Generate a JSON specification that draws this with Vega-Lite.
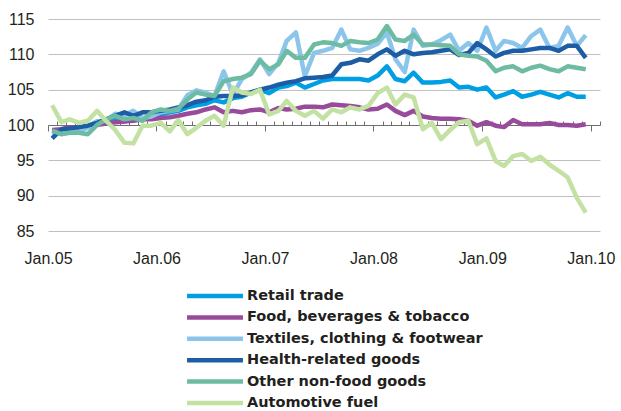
{
  "$schema": "https://vega.github.io/schema/vega-lite/v6.json",
  "width": 552,
  "height": 212,
  "autosize": "none",
  "padding": {"left": 48, "top": 19, "right": 21, "bottom": 180},
  "background": "white",
  "config": {"view": {"stroke": null}},
  "data": {"values": [
    {"d":"2005-01-15","Retail trade":99.0,"Food, beverages & tobacco":99.3,"Textiles, clothing & footwear":99.0,"Health-related goods":98.1,"Other non-food goods":99.2,"Automotive fuel":102.8},
    {"d":"2005-02-15","Retail trade":99.3,"Food, beverages & tobacco":99.4,"Textiles, clothing & footwear":98.8,"Health-related goods":99.4,"Other non-food goods":98.7,"Automotive fuel":100.4},
    {"d":"2005-03-15","Retail trade":99.5,"Food, beverages & tobacco":99.7,"Textiles, clothing & footwear":99.3,"Health-related goods":99.5,"Other non-food goods":98.9,"Automotive fuel":100.8},
    {"d":"2005-04-15","Retail trade":99.3,"Food, beverages & tobacco":99.6,"Textiles, clothing & footwear":99.0,"Health-related goods":99.7,"Other non-food goods":98.9,"Automotive fuel":100.3},
    {"d":"2005-05-15","Retail trade":99.8,"Food, beverages & tobacco":99.8,"Textiles, clothing & footwear":99.6,"Health-related goods":99.9,"Other non-food goods":98.7,"Automotive fuel":100.6},
    {"d":"2005-06-15","Retail trade":100.5,"Food, beverages & tobacco":100.0,"Textiles, clothing & footwear":100.5,"Health-related goods":100.3,"Other non-food goods":100.0,"Automotive fuel":102.0},
    {"d":"2005-07-15","Retail trade":100.2,"Food, beverages & tobacco":100.2,"Textiles, clothing & footwear":100.6,"Health-related goods":100.8,"Other non-food goods":100.8,"Automotive fuel":100.6},
    {"d":"2005-08-15","Retail trade":100.8,"Food, beverages & tobacco":100.4,"Textiles, clothing & footwear":101.6,"Health-related goods":101.3,"Other non-food goods":101.3,"Automotive fuel":99.3},
    {"d":"2005-09-15","Retail trade":100.5,"Food, beverages & tobacco":100.5,"Textiles, clothing & footwear":101.4,"Health-related goods":101.8,"Other non-food goods":100.8,"Automotive fuel":97.5},
    {"d":"2005-10-15","Retail trade":101.0,"Food, beverages & tobacco":100.6,"Textiles, clothing & footwear":102.0,"Health-related goods":101.3,"Other non-food goods":101.0,"Automotive fuel":97.4},
    {"d":"2005-11-15","Retail trade":100.8,"Food, beverages & tobacco":100.8,"Textiles, clothing & footwear":101.0,"Health-related goods":101.8,"Other non-food goods":100.6,"Automotive fuel":99.9},
    {"d":"2005-12-15","Retail trade":101.2,"Food, beverages & tobacco":100.8,"Textiles, clothing & footwear":101.2,"Health-related goods":101.8,"Other non-food goods":101.8,"Automotive fuel":99.9},
    {"d":"2006-01-15","Retail trade":101.5,"Food, beverages & tobacco":101.0,"Textiles, clothing & footwear":101.8,"Health-related goods":102.0,"Other non-food goods":102.2,"Automotive fuel":100.3},
    {"d":"2006-02-15","Retail trade":101.8,"Food, beverages & tobacco":101.1,"Textiles, clothing & footwear":102.0,"Health-related goods":102.2,"Other non-food goods":102.0,"Automotive fuel":99.1},
    {"d":"2006-03-15","Retail trade":102.0,"Food, beverages & tobacco":101.3,"Textiles, clothing & footwear":102.2,"Health-related goods":102.5,"Other non-food goods":102.3,"Automotive fuel":100.7},
    {"d":"2006-04-15","Retail trade":102.5,"Food, beverages & tobacco":101.6,"Textiles, clothing & footwear":104.2,"Health-related goods":102.8,"Other non-food goods":103.6,"Automotive fuel":98.7},
    {"d":"2006-05-15","Retail trade":102.8,"Food, beverages & tobacco":101.8,"Textiles, clothing & footwear":104.9,"Health-related goods":103.3,"Other non-food goods":104.6,"Automotive fuel":99.6},
    {"d":"2006-06-15","Retail trade":103.0,"Food, beverages & tobacco":102.2,"Textiles, clothing & footwear":104.6,"Health-related goods":103.5,"Other non-food goods":104.3,"Automotive fuel":100.6},
    {"d":"2006-07-15","Retail trade":103.5,"Food, beverages & tobacco":102.5,"Textiles, clothing & footwear":104.1,"Health-related goods":104.0,"Other non-food goods":104.1,"Automotive fuel":101.3},
    {"d":"2006-08-15","Retail trade":103.2,"Food, beverages & tobacco":101.8,"Textiles, clothing & footwear":107.6,"Health-related goods":104.1,"Other non-food goods":106.2,"Automotive fuel":99.9},
    {"d":"2006-09-15","Retail trade":103.8,"Food, beverages & tobacco":102.0,"Textiles, clothing & footwear":104.3,"Health-related goods":104.1,"Other non-food goods":106.5,"Automotive fuel":105.3},
    {"d":"2006-10-15","Retail trade":104.0,"Food, beverages & tobacco":101.8,"Textiles, clothing & footwear":106.5,"Health-related goods":104.2,"Other non-food goods":106.7,"Automotive fuel":104.6},
    {"d":"2006-11-15","Retail trade":104.6,"Food, beverages & tobacco":102.1,"Textiles, clothing & footwear":107.4,"Health-related goods":104.6,"Other non-food goods":107.2,"Automotive fuel":104.4},
    {"d":"2006-12-15","Retail trade":105.0,"Food, beverages & tobacco":102.2,"Textiles, clothing & footwear":109.3,"Health-related goods":105.0,"Other non-food goods":109.1,"Automotive fuel":105.0},
    {"d":"2007-01-15","Retail trade":104.5,"Food, beverages & tobacco":101.8,"Textiles, clothing & footwear":107.2,"Health-related goods":105.3,"Other non-food goods":107.9,"Automotive fuel":101.5},
    {"d":"2007-02-15","Retail trade":105.3,"Food, beverages & tobacco":102.4,"Textiles, clothing & footwear":108.8,"Health-related goods":105.7,"Other non-food goods":108.6,"Automotive fuel":102.0},
    {"d":"2007-03-15","Retail trade":105.5,"Food, beverages & tobacco":102.2,"Textiles, clothing & footwear":111.9,"Health-related goods":106.0,"Other non-food goods":110.5,"Automotive fuel":103.4},
    {"d":"2007-04-15","Retail trade":106.0,"Food, beverages & tobacco":102.3,"Textiles, clothing & footwear":113.1,"Health-related goods":106.2,"Other non-food goods":109.5,"Automotive fuel":102.0},
    {"d":"2007-05-15","Retail trade":105.3,"Food, beverages & tobacco":102.6,"Textiles, clothing & footwear":106.9,"Health-related goods":106.6,"Other non-food goods":109.5,"Automotive fuel":101.3},
    {"d":"2007-06-15","Retail trade":105.8,"Food, beverages & tobacco":102.6,"Textiles, clothing & footwear":110.2,"Health-related goods":106.7,"Other non-food goods":111.4,"Automotive fuel":102.0},
    {"d":"2007-07-15","Retail trade":106.3,"Food, beverages & tobacco":102.5,"Textiles, clothing & footwear":110.5,"Health-related goods":106.8,"Other non-food goods":111.7,"Automotive fuel":100.9},
    {"d":"2007-08-15","Retail trade":106.5,"Food, beverages & tobacco":102.9,"Textiles, clothing & footwear":110.9,"Health-related goods":107.0,"Other non-food goods":111.6,"Automotive fuel":102.2},
    {"d":"2007-09-15","Retail trade":106.5,"Food, beverages & tobacco":102.8,"Textiles, clothing & footwear":113.5,"Health-related goods":108.6,"Other non-food goods":111.2,"Automotive fuel":101.8},
    {"d":"2007-10-15","Retail trade":106.5,"Food, beverages & tobacco":102.7,"Textiles, clothing & footwear":110.7,"Health-related goods":108.8,"Other non-food goods":111.9,"Automotive fuel":102.5},
    {"d":"2007-11-15","Retail trade":106.5,"Food, beverages & tobacco":102.5,"Textiles, clothing & footwear":110.5,"Health-related goods":109.3,"Other non-food goods":111.7,"Automotive fuel":102.2},
    {"d":"2007-12-15","Retail trade":106.3,"Food, beverages & tobacco":102.2,"Textiles, clothing & footwear":110.9,"Health-related goods":109.1,"Other non-food goods":111.6,"Automotive fuel":102.7},
    {"d":"2008-01-15","Retail trade":107.0,"Food, beverages & tobacco":102.3,"Textiles, clothing & footwear":111.5,"Health-related goods":110.0,"Other non-food goods":112.1,"Automotive fuel":104.5},
    {"d":"2008-02-15","Retail trade":108.3,"Food, beverages & tobacco":102.9,"Textiles, clothing & footwear":113.1,"Health-related goods":110.7,"Other non-food goods":114.0,"Automotive fuel":105.3},
    {"d":"2008-03-15","Retail trade":106.5,"Food, beverages & tobacco":102.0,"Textiles, clothing & footwear":109.3,"Health-related goods":109.8,"Other non-food goods":112.1,"Automotive fuel":102.9},
    {"d":"2008-04-15","Retail trade":106.2,"Food, beverages & tobacco":101.4,"Textiles, clothing & footwear":107.5,"Health-related goods":110.5,"Other non-food goods":111.9,"Automotive fuel":104.3},
    {"d":"2008-05-15","Retail trade":107.4,"Food, beverages & tobacco":102.0,"Textiles, clothing & footwear":113.5,"Health-related goods":110.0,"Other non-food goods":112.8,"Automotive fuel":103.9},
    {"d":"2008-06-15","Retail trade":106.0,"Food, beverages & tobacco":101.2,"Textiles, clothing & footwear":111.2,"Health-related goods":110.2,"Other non-food goods":111.4,"Automotive fuel":99.4},
    {"d":"2008-07-15","Retail trade":106.0,"Food, beverages & tobacco":101.0,"Textiles, clothing & footwear":111.4,"Health-related goods":110.3,"Other non-food goods":111.4,"Automotive fuel":100.3},
    {"d":"2008-08-15","Retail trade":106.1,"Food, beverages & tobacco":100.9,"Textiles, clothing & footwear":112.0,"Health-related goods":110.5,"Other non-food goods":111.3,"Automotive fuel":98.0},
    {"d":"2008-09-15","Retail trade":106.3,"Food, beverages & tobacco":100.9,"Textiles, clothing & footwear":112.8,"Health-related goods":110.7,"Other non-food goods":111.2,"Automotive fuel":99.3},
    {"d":"2008-10-15","Retail trade":105.3,"Food, beverages & tobacco":100.8,"Textiles, clothing & footwear":110.5,"Health-related goods":109.9,"Other non-food goods":110.0,"Automotive fuel":100.4},
    {"d":"2008-11-15","Retail trade":105.4,"Food, beverages & tobacco":100.6,"Textiles, clothing & footwear":111.6,"Health-related goods":110.2,"Other non-food goods":109.8,"Automotive fuel":100.6},
    {"d":"2008-12-15","Retail trade":105.0,"Food, beverages & tobacco":99.9,"Textiles, clothing & footwear":110.5,"Health-related goods":111.6,"Other non-food goods":109.7,"Automotive fuel":97.3},
    {"d":"2009-01-15","Retail trade":105.3,"Food, beverages & tobacco":100.4,"Textiles, clothing & footwear":113.8,"Health-related goods":110.7,"Other non-food goods":109.1,"Automotive fuel":98.1},
    {"d":"2009-02-15","Retail trade":103.9,"Food, beverages & tobacco":99.9,"Textiles, clothing & footwear":110.5,"Health-related goods":109.7,"Other non-food goods":107.6,"Automotive fuel":94.9},
    {"d":"2009-03-15","Retail trade":104.3,"Food, beverages & tobacco":99.7,"Textiles, clothing & footwear":111.9,"Health-related goods":110.2,"Other non-food goods":108.1,"Automotive fuel":94.2},
    {"d":"2009-04-15","Retail trade":104.8,"Food, beverages & tobacco":100.7,"Textiles, clothing & footwear":111.6,"Health-related goods":110.5,"Other non-food goods":108.3,"Automotive fuel":95.6},
    {"d":"2009-05-15","Retail trade":104.0,"Food, beverages & tobacco":100.1,"Textiles, clothing & footwear":110.9,"Health-related goods":110.5,"Other non-food goods":107.6,"Automotive fuel":95.9},
    {"d":"2009-06-15","Retail trade":104.3,"Food, beverages & tobacco":100.1,"Textiles, clothing & footwear":112.6,"Health-related goods":110.7,"Other non-food goods":108.1,"Automotive fuel":94.9},
    {"d":"2009-07-15","Retail trade":104.7,"Food, beverages & tobacco":100.1,"Textiles, clothing & footwear":113.5,"Health-related goods":110.9,"Other non-food goods":108.4,"Automotive fuel":95.5},
    {"d":"2009-08-15","Retail trade":104.3,"Food, beverages & tobacco":100.3,"Textiles, clothing & footwear":110.9,"Health-related goods":110.9,"Other non-food goods":107.9,"Automotive fuel":94.4},
    {"d":"2009-09-15","Retail trade":103.9,"Food, beverages & tobacco":100.0,"Textiles, clothing & footwear":111.2,"Health-related goods":110.5,"Other non-food goods":107.6,"Automotive fuel":93.5},
    {"d":"2009-10-15","Retail trade":104.5,"Food, beverages & tobacco":100.0,"Textiles, clothing & footwear":113.8,"Health-related goods":111.2,"Other non-food goods":108.3,"Automotive fuel":92.6},
    {"d":"2009-11-15","Retail trade":104.0,"Food, beverages & tobacco":99.9,"Textiles, clothing & footwear":111.2,"Health-related goods":111.2,"Other non-food goods":108.1,"Automotive fuel":89.7},
    {"d":"2009-12-15","Retail trade":104.0,"Food, beverages & tobacco":100.1,"Textiles, clothing & footwear":112.7,"Health-related goods":109.5,"Other non-food goods":107.9,"Automotive fuel":87.6}
  ]},
  "transform": [
    {"fold": ["Retail trade","Food, beverages & tobacco","Textiles, clothing & footwear","Health-related goods","Other non-food goods","Automotive fuel"], "as": ["series","value"]}
  ],
  "mark": {"type": "line", "strokeWidth": 4.5, "strokeJoin": "round", "strokeCap": "butt"},
  "encoding": {
    "x": {
      "field": "d", "type": "temporal",
      "scale": {"type": "utc", "domain": [{"year": 2005, "month": 1, "date": 1, "utc": true}, {"year": 2010, "month": 2, "date": 1, "utc": true}]},
      "axis": {
        "orient": "bottom", "offset": -106, "title": null, "grid": false,
        "domain": true, "domainColor": "#6D6E70", "domainWidth": 1,
        "ticks": true, "tickColor": "#6D6E70", "tickWidth": 1,
        "tickCount": {"interval": "month", "step": 1},
        "tickSize": {"condition": {"test": "utcmonth(datum.value) == 0", "value": 6}, "value": -4},
        "labelExpr": "utcmonth(datum.value) == 0 ? utcFormat(datum.value, '%b.%y') : ''",
        "labelOverlap": false, "labelBound": false, "labelFlush": false,
        "labelPadding": 119, "labelDx": 3,
        "labelFont": "Liberation Sans", "labelFontSize": 16, "labelColor": "#231F20"
      }
    },
    "y": {
      "field": "value", "type": "quantitative",
      "scale": {"domain": [85, 115], "nice": false, "zero": false},
      "axis": {
        "values": [85, 90, 95, 100, 105, 110, 115], "title": null,
        "domain": false, "ticks": false, "grid": true, "gridColor": "#C0C0C0", "gridWidth": 1,
        "labelFont": "Liberation Sans", "labelFontSize": 16, "labelColor": "#231F20", "labelPadding": 14
      }
    },
    "color": {
      "field": "series", "type": "nominal",
      "scale": {
        "domain": ["Retail trade","Food, beverages & tobacco","Textiles, clothing & footwear","Health-related goods","Other non-food goods","Automotive fuel"],
        "range": ["#009FE3","#984B9B","#8CC5EB","#1C5DA6","#6DBBA2","#C3E1A2"]
      },
      "legend": {
        "orient": "none", "legendX": 159, "legendY": 269, "title": null,
        "symbolType": "M-5,0H5", "symbolSize": 125, "symbolStrokeWidth": 4.5,
        "labelFont": "DejaVu Sans", "labelFontWeight": "bold", "labelFontSize": 14.5,
        "labelColor": "#231F20", "labelOffset": 24, "rowPadding": 3.4, "padding": 0, "labelLimit": 400
      }
    }
  }
}
